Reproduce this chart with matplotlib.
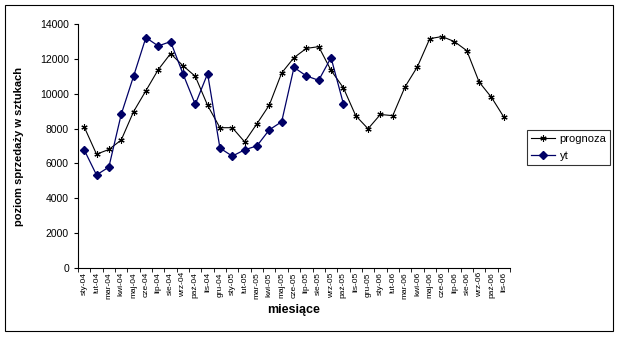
import numpy as np
import matplotlib.pyplot as plt
from matplotlib.patches import Rectangle

plt.rcParams['font.family'] = ['Liberation Sans', 'DejaVu Sans']

miesiace = ["sty-04", "lut-04", "mar-04", "kwi-04", "maj-04", "cze-04", "lip-04", "sie-04",
            "wrz-04", "paź-04", "lis-04", "gru-04",
            "sty-05", "lut-05", "mar-05", "kwi-05", "maj-05", "cze-05", "lip-05", "sie-05",
            "wrz-05", "paź-05", "lis-05", "gru-05",
            "sty-06", "lut-06", "mar-06", "kwi-06", "maj-06", "cze-06", "lip-06", "sie-06",
            "wrz-06", "paź-06", "lis-06"]

prognoza = [8100, 6530, 6800, 7340, 8970, 10170, 11380, 12300, 11610, 11000, 9330, 8050,
            8050, 7240, 8280, 9350, 11190, 12070, 12600, 12700, 11340, 10340, 8740, 7990,
            8810, 8740, 10400, 11550, 13160, 13280, 12990, 12470, 10670, 9790, 8660]

yt = [6780, 5340, 5790, 8810, 11000, 13220, 12740, 12990, 11150, 9390, 11150, 6880,
      6420, 6780, 7010, 7930, 8390, 11510, 11020, 10770, 12070, 9430]

fig = plt.figure(figsize=(6.2, 3.38), dpi=100)
ax = fig.add_axes([78 / 620, 1 - 268 / 338, 432 / 620, 244 / 338])

x = np.arange(len(miesiace))
ax.plot(x, prognoza, color='black', lw=0.8, marker=(6, 2, 0), ms=4.5, mew=0.8,
        label='prognoza')
ax.plot(np.arange(len(yt)), yt, color='#000066', lw=0.9, marker='D', ms=4,
        label='yt')

ax.set_xlim(-0.5, len(miesiace) - 0.5)
ax.set_ylim(0, 14000)
ax.set_yticks(range(0, 14001, 2000))
ax.set_xticks(x)
ax.set_xticklabels(miesiace, rotation=90, fontsize=6)
ax.set_xticks(np.arange(-0.5, len(miesiace)), minor=True)
ax.tick_params(axis='x', which='major', length=0, pad=3)
ax.tick_params(axis='x', which='minor', length=3, direction='out')
ax.tick_params(axis='y', labelsize=7.5, length=3, direction='out')

for s in ['top', 'right']:
    ax.spines[s].set_visible(False)
for s in ['left', 'bottom']:
    ax.spines[s].set_linewidth(0.8)

ax.set_ylabel('poziom sprzedaży w sztukach', fontsize=8, fontweight='bold')
ax.yaxis.set_label_coords(-0.125, 0.5)
fig.text(294 / 620, 1 - 310 / 338, 'miesiące', fontsize=9, fontweight='bold',
         ha='center', va='center')

leg = ax.legend(loc='center left', bbox_to_anchor=(527 / 620, 1 - 166 / 338, 83 / 620, 37 / 338),
                bbox_transform=fig.transFigure, mode='expand', fontsize=8, frameon=True,
                fancybox=False, edgecolor='black', borderaxespad=0, handlelength=2.2,
                handletextpad=0.4, labelspacing=0.6, borderpad=0.35)
leg.get_frame().set_linewidth(0.8)

fig.patches.append(Rectangle((5 / 620, 1 - 331 / 338), 608 / 620, 326 / 338,
                             transform=fig.transFigure, fill=False, edgecolor='black', lw=0.8))

fig.savefig('out.png', dpi=100)
